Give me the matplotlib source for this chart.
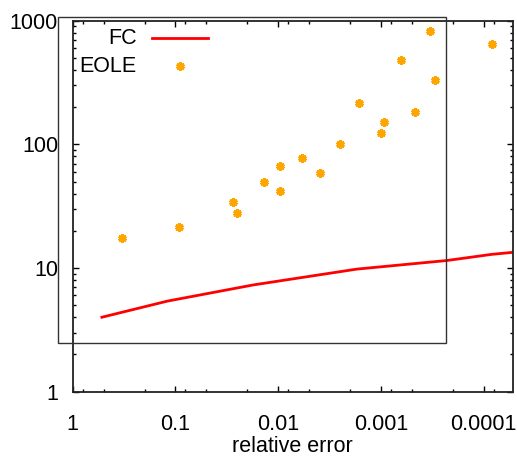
import matplotlib
matplotlib.use('Agg')
import matplotlib.pyplot as plt
from matplotlib.ticker import LogLocator, FixedFormatter, NullFormatter
from matplotlib.patches import Rectangle
from matplotlib.lines import Line2D

plt.rcParams['font.family'] = ['Liberation Sans', 'DejaVu Sans']

# FC curve: cost vs relative error
fc_err = [0.52, 0.12, 0.0175, 0.00172, 0.000229, 0.0000836, 0.0000519]
fc_cost = [4.0, 5.4, 7.3, 9.8, 11.5, 12.9, 13.4]

# EOLE runs
eole_err = [0.331, 0.0917, 0.0277, 0.0253, 0.01365, 0.00954, 0.00954, 0.00583,
            0.00395, 0.00252, 0.001625, 0.00094, 0.001, 0.000634, 0.00047,
            0.000336, 0.000298, 0.0000836]
eole_cost = [17.5, 21.6, 34.0, 27.8, 49.3, 66.8, 41.9, 77.1,
             58.3, 100.6, 215.8, 151.4, 124.1, 477.8, 181.4,
             828, 331, 650]

x_ticks = [1, 0.1, 0.01, 0.001, 0.0001]
x_labels = ['1', '0.1', '0.01', '0.001', '0.0001']
y_ticks = [1, 10, 100, 1000]
y_labels = ['1', '10', '100', '1000']

FS = 15.5

fig = plt.figure(figsize=(5.17, 4.57), dpi=100)
ax = fig.add_axes([0.1406, 0.1429, 0.8517, 0.8118])

ax.plot(fc_err, fc_cost, color='#ff0000', lw=2, solid_joinstyle='round')
ax.plot(eole_err, eole_cost, ls='none', marker=(6, 2, 0), ms=6, mew=2.2,
        color='#ffa500')

ax.set_xscale('log')
ax.set_yscale('log')
ax.set_xlim(1, 5.19e-5)
ax.set_ylim(1, 1000)

ax.set_xticks(x_ticks)
ax.xaxis.set_major_formatter(FixedFormatter(x_labels))
ax.xaxis.set_minor_locator(LogLocator(base=10, subs=(2, 5, 8), numticks=20))
ax.xaxis.set_minor_formatter(NullFormatter())
ax.set_yticks(y_ticks)
ax.yaxis.set_major_formatter(FixedFormatter(y_labels))
ax.yaxis.set_minor_locator(LogLocator(base=10, subs=range(2, 10), numticks=20))
ax.yaxis.set_minor_formatter(NullFormatter())

ax.tick_params(which='both', direction='in', top=True, right=True,
               labelsize=FS, width=1)
ax.tick_params(which='major', length=4)
ax.tick_params(which='minor', length=2)
ax.tick_params(axis='y', pad=10.5)
ax.tick_params(axis='x', pad=16)
for s in ax.spines.values():
    s.set_linewidth(1.3)
    s.set_color('#222222')

ax.set_xlabel('relative error', fontsize=FS, labelpad=1)

# key
ax.text(0.1454, 0.951, 'FC', transform=ax.transAxes, ha='right',
        va='center', fontsize=FS)
ax.text(0.1454, 0.876, 'EOLE', transform=ax.transAxes, ha='right',
        va='center', fontsize=FS)
ax.add_line(Line2D([0.1799, 0.3072], [0.9534, 0.9534], transform=ax.transAxes,
                   color='#ff0000', lw=2))
ax.add_line(Line2D([0.2437], [0.8771], transform=ax.transAxes, ls='none',
                   marker=(6, 2, 0), ms=6, mew=2.2, color='#ffa500'))

# extra border box
fig.add_artist(Rectangle((0.1128, 0.2495), 0.7493, 0.7126, fill=False,
                         lw=1, edgecolor='#333333', transform=fig.transFigure))

fig.savefig('out.png', dpi=100)
